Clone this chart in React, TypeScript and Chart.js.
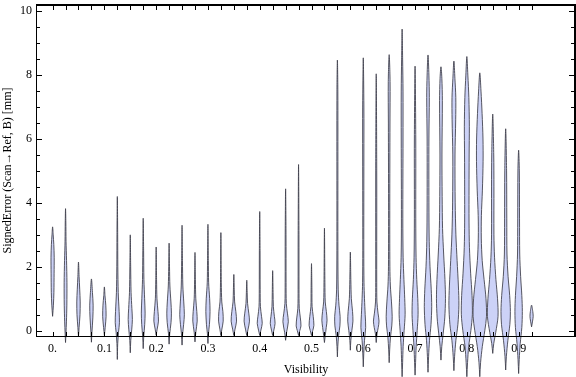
import React, { useEffect, useRef } from "react";
import { Chart, registerables } from "chart.js";

Chart.register(...registerables);

// Violin centres (Visibility)
const positions: number[] = [
  0, 0.025, 0.05, 0.075, 0.1, 0.125, 0.15, 0.175, 0.2, 0.225,
  0.25, 0.275, 0.3, 0.325, 0.35, 0.375, 0.4, 0.425, 0.45, 0.475,
  0.5, 0.525, 0.55, 0.575, 0.6, 0.625, 0.65, 0.675, 0.7, 0.725,
  0.75, 0.775, 0.8, 0.825, 0.85, 0.875, 0.9, 0.925,
];

const xTickValues: number[] = [0, 0.1, 0.2, 0.3, 0.4, 0.5, 0.6, 0.7, 0.8, 0.9];
const xTickLabels: string[] = ["0.", "0.1", "0.2", "0.3", "0.4", "0.5", "0.6", "0.7", "0.8", "0.9"];
const yTickValues: number[] = [0, 2, 4, 6, 8, 10];
const yTickLabels: string[] = ["0", "2", "4", "6", "8", "10"];
const yMinorTicks: number[] = [
  0, 0.5, 1, 1.5, 2, 2.5, 3, 3.5, 4, 4.5, 5, 5.5, 6, 6.5, 7, 7.5, 8, 8.5, 9, 9.5, 10,
];

// Density profiles: [signed error, relative density] from bottom tip to top tip
const profiles: number[][][] = [
  [[0.45, 0], [0.8, 0.8], [1.2, 1.3], [1.8, 1.5], [2.3, 1.6], [2.7, 1.2], [3.0, 0.6], [3.25, 0]],
  [[-0.37, 0], [-0.1, 0.4], [0.3, 0.9], [0.8, 1.3], [1.5, 1.4], [2.2, 1.0], [2.8, 0.5], [3.4, 0.3], [3.82, 0]],
  [[-0.19, 0], [0.1, 0.6], [0.5, 1.5], [0.9, 1.7], [1.3, 1.2], [1.7, 0.6], [2.15, 0]],
  [[-0.36, 0], [-0.05, 0.5], [0.4, 1.4], [0.8, 1.7], [1.2, 1.0], [1.62, 0]],
  [[-0.15, 0], [0.1, 0.8], [0.45, 1.7], [0.8, 1.4], [1.1, 0.6], [1.37, 0]],
  [[-0.9, 0], [-0.4, 0.4], [-0.05, 1.2], [0.25, 2.1], [0.6, 1.8], [1.2, 0.9], [2.0, 0.5], [3.0, 0.35], [4.2, 0]],
  [[-0.69, 0], [-0.3, 0.5], [0.05, 1.5], [0.35, 2.1], [0.7, 1.6], [1.2, 0.8], [2.0, 0.4], [3.0, 0]],
  [[-0.56, 0], [-0.2, 0.5], [0.2, 1.5], [0.55, 1.9], [1.0, 1.4], [1.6, 0.7], [2.5, 0.4], [3.52, 0]],
  [[-0.14, 0], [0.05, 1.0], [0.3, 2.3], [0.6, 1.8], [1.0, 0.8], [1.6, 0.4], [2.62, 0]],
  [[-0.42, 0], [-0.1, 0.6], [0.25, 1.9], [0.55, 2.3], [0.9, 1.8], [1.4, 0.8], [2.0, 0.4], [2.74, 0]],
  [[-0.45, 0], [-0.1, 0.6], [0.2, 1.6], [0.5, 2.3], [0.9, 1.7], [1.4, 0.8], [2.2, 0.4], [3.3, 0]],
  [[-0.35, 0], [-0.05, 0.8], [0.3, 2.2], [0.6, 1.8], [1.0, 0.8], [1.6, 0.4], [2.45, 0]],
  [[-0.4, 0], [-0.1, 0.5], [0.2, 1.5], [0.6, 2.1], [1.0, 1.7], [1.5, 0.7], [2.2, 0.4], [3.33, 0]],
  [[-0.15, 0], [0.05, 1.0], [0.3, 2.3], [0.6, 2.0], [0.9, 0.9], [1.5, 0.4], [3.07, 0]],
  [[-0.15, 0], [0.05, 1.2], [0.3, 2.7], [0.6, 2.0], [0.9, 0.8], [1.3, 0.4], [1.76, 0]],
  [[-0.15, 0], [0.05, 1.3], [0.3, 2.7], [0.55, 2.0], [0.85, 0.8], [1.2, 0.4], [1.58, 0]],
  [[-0.15, 0], [0.02, 1.2], [0.23, 2.5], [0.45, 1.8], [0.75, 0.7], [1.3, 0.45], [2.5, 0.35], [3.73, 0]],
  [[-0.15, 0], [0.02, 1.2], [0.23, 2.4], [0.45, 1.7], [0.75, 0.7], [1.2, 0.4], [1.88, 0]],
  [[-0.3, 0], [-0.05, 1.0], [0.28, 2.7], [0.55, 1.8], [0.85, 0.7], [1.5, 0.45], [3.0, 0.4], [4.44, 0]],
  [[-0.15, 0], [0.0, 1.2], [0.15, 2.4], [0.4, 1.8], [0.7, 0.7], [1.3, 0.45], [3.0, 0.4], [5.2, 0]],
  [[-0.15, 0], [0.0, 1.2], [0.17, 2.4], [0.45, 1.7], [0.75, 0.6], [1.3, 0.4], [2.1, 0]],
  [[-0.37, 0], [-0.15, 0.8], [0.1, 1.8], [0.33, 2.6], [0.6, 1.9], [0.9, 0.8], [1.5, 0.45], [3.21, 0]],
  [[-0.82, 0], [-0.5, 0.4], [-0.15, 1.2], [0.15, 2.5], [0.45, 2.7], [0.8, 1.6], [1.3, 0.8], [2.5, 0.5], [5.0, 0.5], [7.5, 0.45], [8.47, 0]],
  [[-0.61, 0], [-0.3, 0.5], [0.0, 1.5], [0.3, 2.6], [0.6, 2.2], [1.0, 1.0], [1.6, 0.5], [2.46, 0]],
  [[-1.13, 0], [-0.7, 0.5], [-0.3, 1.2], [0.1, 2.4], [0.5, 1.9], [1.0, 1.2], [1.5, 0.7], [2.5, 0.5], [5.5, 0.6], [7.0, 0.6], [8.54, 0]],
  [[-0.37, 0], [-0.1, 0.8], [0.1, 2.0], [0.3, 2.8], [0.55, 1.8], [0.9, 0.7], [1.5, 0.5], [5.0, 0.5], [8.04, 0]],
  [[-1.0, 0], [-0.6, 0.5], [-0.2, 1.3], [0.15, 2.6], [0.45, 3.0], [0.9, 2.3], [1.4, 1.2], [2.0, 0.7], [4.0, 0.6], [6.5, 0.8], [7.8, 0.9], [8.64, 0]],
  [[-1.44, 0], [-1.0, 0.5], [-0.5, 1.0], [0.0, 2.0], [0.5, 3.0], [1.0, 2.6], [1.6, 1.8], [2.3, 1.0], [3.5, 0.7], [6.0, 0.9], [7.5, 0.9], [8.5, 0.5], [9.44, 0]],
  [[-1.39, 0], [-1.0, 0.5], [-0.5, 1.1], [0.0, 2.1], [0.5, 3.0], [1.0, 2.7], [1.6, 1.7], [2.3, 1.0], [3.5, 0.7], [6.0, 0.7], [8.28, 0]],
  [[-1.3, 0], [-0.8, 0.6], [-0.3, 1.5], [0.2, 3.0], [0.75, 3.7], [1.3, 3.2], [2.0, 2.0], [2.8, 1.2], [4.0, 0.9], [6.0, 0.9], [7.3, 1.3], [8.0, 0.9], [8.63, 0]],
  [[-0.92, 0], [-0.5, 0.8], [-0.1, 2.2], [0.4, 3.8], [1.0, 4.5], [1.6, 4.0], [2.4, 2.7], [3.2, 1.6], [4.2, 1.2], [5.5, 1.0], [7.2, 1.4], [7.9, 0.9], [8.26, 0]],
  [[-1.25, 0], [-0.8, 0.7], [-0.3, 2.0], [0.2, 4.0], [0.8, 5.0], [1.4, 4.5], [2.2, 3.2], [3.0, 2.0], [4.0, 1.3], [5.5, 1.1], [6.6, 1.8], [7.3, 1.9], [7.9, 1.0], [8.44, 0]],
  [[-1.44, 0], [-1.0, 0.7], [-0.5, 1.8], [0.0, 4.0], [0.5, 5.5], [1.1, 5.2], [1.8, 3.8], [2.6, 2.6], [3.4, 2.2], [4.5, 2.2], [5.5, 2.3], [6.4, 2.5], [7.3, 2.0], [8.0, 1.0], [8.58, 0]],
  [[-1.44, 0], [-1.0, 0.8], [-0.5, 2.5], [0.0, 5.0], [0.45, 6.7], [1.0, 6.2], [1.6, 4.3], [2.2, 2.4], [2.9, 1.5], [3.6, 1.6], [4.4, 2.6], [5.3, 3.3], [6.0, 3.2], [6.8, 2.3], [7.5, 1.2], [8.07, 0]],
  [[-0.71, 0], [-0.4, 1.0], [-0.05, 3.0], [0.45, 5.3], [1.0, 4.8], [1.6, 3.2], [2.3, 1.8], [3.0, 1.2], [4.5, 1.2], [5.5, 1.0], [6.78, 0]],
  [[-1.23, 0], [-0.8, 0.7], [-0.3, 2.2], [0.2, 4.2], [0.6, 4.7], [1.1, 4.0], [1.7, 2.4], [2.4, 1.3], [3.5, 1.1], [5.0, 0.9], [6.32, 0]],
  [[-1.34, 0], [-0.9, 0.6], [-0.4, 1.6], [0.1, 3.2], [0.6, 3.7], [1.1, 3.2], [1.7, 2.0], [2.4, 1.1], [3.5, 0.9], [5.0, 0.7], [5.65, 0]],
  [[0.12, 0], [0.3, 1.0], [0.45, 1.6], [0.6, 1.2], [0.8, 0]],
];

const X_MIN = -0.03206;
const X_MAX = 1.0108;
const Y_MIN = -0.197;
const Y_MAX = 10.225;
const DENSITY_TO_X = 1 / 517.8;
const FILL = "rgb(204, 210, 247)";
const EDGE = "rgba(60, 60, 72, 0.85)";
const FONT = "'Liberation Serif', 'DejaVu Serif', 'Times New Roman', serif";

function outline(center: number, prof: number[][]) {
  const right = prof.map(([y, d]) => ({ x: center + d * DENSITY_TO_X, y }));
  const left = prof
    .slice(0, -1)
    .reverse()
    .map(([y, d]) => ({ x: center - d * DENSITY_TO_X, y }));
  return [...right, ...left];
}

const violinFill = {
  id: "violinFill",
  beforeDatasetDraw(chart: any, args: any) {
    const line = args.meta.dataset;
    if (!line) return;
    const ctx = chart.ctx;
    line.updateControlPoints(chart.chartArea, "x");
    ctx.save();
    ctx.beginPath();
    line.path(ctx);
    ctx.closePath();
    ctx.fillStyle = FILL;
    ctx.fill();
    ctx.restore();
  },
};

const frameTicks = {
  id: "frameTicks",
  afterDraw(chart: any) {
    const ctx = chart.ctx;
    const x = chart.scales.x;
    const y = chart.scales.y;
    const L = Math.round(x.getPixelForValue(X_MIN));
    const R = Math.min(Math.round(x.getPixelForValue(X_MAX)), chart.width) - 2;
    const T = Math.max(Math.round(y.getPixelForValue(Y_MAX)), 0);
    const B = Math.round(y.getPixelForValue(Y_MIN)) - 1;
    ctx.save();
    ctx.fillStyle = "#000";
    ctx.fillRect(L, T, R - L + 2, 2);
    ctx.fillRect(R, T, 2, B - T + 1);
    ctx.fillRect(L, B, R - L + 2, 1);
    ctx.fillRect(L, T, 1, B - T + 1);
    for (const v of positions) {
      const px = Math.round(x.getPixelForValue(v));
      ctx.fillRect(px, B - 4, 1, 4);
      ctx.fillRect(px, T + 2, 1, 4);
    }
    for (const v of yMinorTicks) {
      const py = Math.round(y.getPixelForValue(v));
      const len = yTickValues.includes(v) ? 5 : 3;
      ctx.fillRect(L + 1, py, len, 1);
      ctx.fillRect(R - len, py, len, 1);
    }
    ctx.restore();
  },
};

export default function App() {
  const ref = useRef<HTMLCanvasElement | null>(null);

  useEffect(() => {
    if (!ref.current) return;
    const datasets = positions.map((p, i) => ({
      data: outline(p, profiles[i]),
      showLine: true,
      fill: false,
      borderColor: EDGE,
      borderWidth: 1,
      pointRadius: 0,
      pointHoverRadius: 0,
      tension: 0.3,
      capBezierPoints: false,
      clip: false as const,
    }));

    const chart = new Chart(ref.current, {
      type: "scatter",
      data: { datasets },
      plugins: [violinFill, frameTicks],
      options: {
        animation: false,
        responsive: false,
        layout: { padding: { top: 4, right: 0, left: 0, bottom: 0 } },
        plugins: {
          legend: { display: false },
          tooltip: { enabled: false },
        },
        scales: {
          x: {
            type: "linear",
            position: "bottom",
            min: X_MIN,
            max: X_MAX,
            afterFit: (s: any) => {
              s.height = 40;
              s.paddingLeft = 0;
              s.paddingRight = 0;
            },
            afterBuildTicks: (s: any) => {
              s.ticks = xTickValues.map((v) => ({ value: v }));
            },
            grid: { display: false, drawTicks: false },
            border: { display: false },
            ticks: {
              autoSkip: false,
              maxRotation: 0,
              padding: 5,
              color: "#000",
              font: { family: FONT, size: 12 },
              callback: (_v: any, i: number) => xTickLabels[i],
            },
            title: {
              display: true,
              text: "Visibility",
              color: "#000",
              font: { family: FONT, size: 12 },
              padding: { top: 0, bottom: 0 },
            },
          },
          y: {
            type: "linear",
            position: "left",
            min: Y_MIN,
            max: Y_MAX,
            afterFit: (s: any) => {
              s.width = 36;
              s.paddingTop = 0;
              s.paddingBottom = 0;
            },
            afterBuildTicks: (s: any) => {
              s.ticks = yTickValues.map((v) => ({ value: v }));
            },
            grid: { display: false, drawTicks: false },
            border: { display: false },
            ticks: {
              padding: 4,
              color: "#000",
              font: { family: FONT, size: 12 },
              callback: (_v: any, i: number) => yTickLabels[i],
            },
            title: {
              display: true,
              text: "SignedError (Scan\u2192Ref, B) [mm]",
              color: "#000",
              font: { family: FONT, size: 12 },
              padding: { top: 1, bottom: 0 },
            },
          },
        },
      } as any,
    });
    return () => chart.destroy();
  }, []);

  return (
    <div style={{ position: "absolute", left: 0, top: 0, width: 576, height: 377, background: "#fff" }}>
      <canvas ref={ref} width={576} height={377} />
    </div>
  );
}
